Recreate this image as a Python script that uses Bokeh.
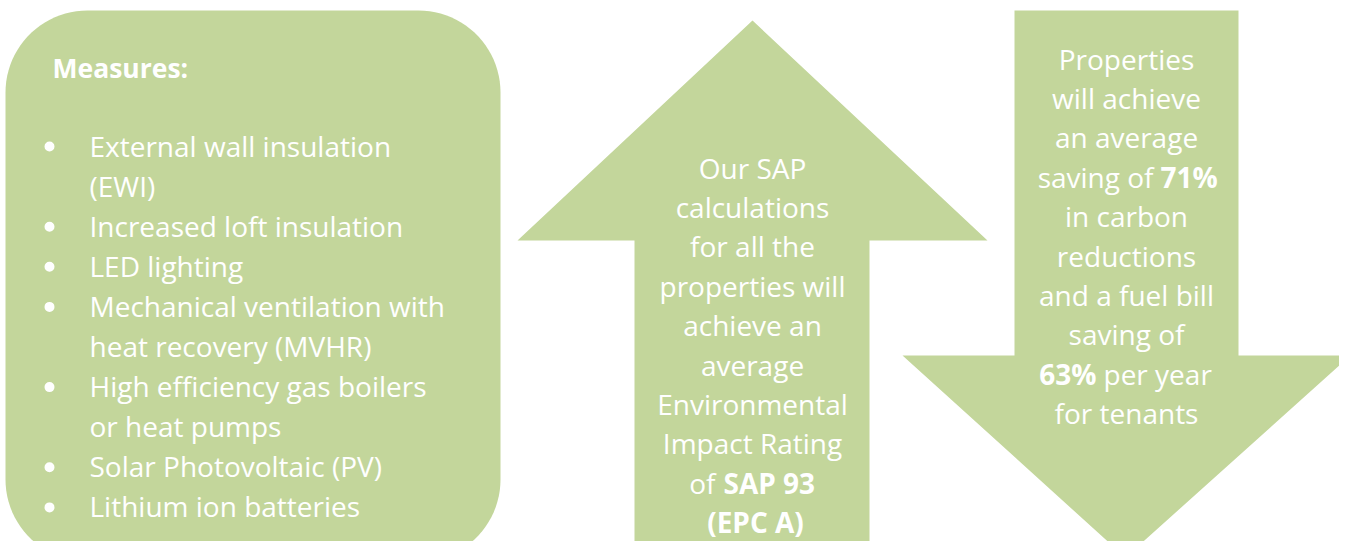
import numpy as np
from bokeh.plotting import figure
from bokeh.models import Range1d
from bokeh.core.properties import value
from bokeh.embed import file_html
from bokeh.resources import INLINE

# ---------------- content ----------------
measures_title = "Measures:"
measure_lines = [
    "External wall insulation", "(EWI)",
    "Increased loft insulation",
    "LED lighting",
    "Mechanical ventilation with", "heat recovery (MVHR)",
    "High efficiency gas boilers", "or heat pumps",
    "Solar Photovoltaic (PV)",
    "Lithium ion batteries",
]
measure_bullet = [1, 0, 1, 1, 1, 0, 1, 0, 1, 1]

up_plain = ["Our SAP", "calculations", "for all the", "properties will",
            "achieve an", "average", "Environmental", "Impact Rating"]
up_mixed = ("of", "SAP 93")
up_bold = ["(EPC A)"]

down_plain_top = ["Properties", "will achieve", "an average"]
down_mixed1 = ("saving of", "71%")
down_plain_mid = ["in carbon", "reductions", "and a fuel bill", "saving of"]
down_mixed2 = ("63%", "per year")
down_plain_end = ["for tenants"]

# ---------------- style ----------------
GREEN = "#c3d69b"
WHITE = "#ffffff"
FONT = "Open Sans"
FS = "28px"
FS_TITLE = "26.5px"
LH = 39.4
TY = -10  # baseline correction for svg text

W, H = 1339, 541
p = figure(width=W, height=H, output_backend="svg", toolbar_location=None,
           x_range=Range1d(0, W), y_range=Range1d(H, 0),
           x_axis_location=None, y_axis_location=None, min_border=0)
p.grid.visible = False
p.outline_line_color = None
p.background_fill_color = "white"
p.border_fill_color = "white"


def rounded_rect(x0, y0, x1, y1, r, n=24):
    xs, ys = [], []
    corners = [(x1 - r, y0 + r, -np.pi / 2, 0.0),
               (x1 - r, y1 - r, 0.0, np.pi / 2),
               (x0 + r, y1 - r, np.pi / 2, np.pi),
               (x0 + r, y0 + r, np.pi, 1.5 * np.pi)]
    for cx, cy, a0, a1 in corners:
        t = np.linspace(a0, a1, n)
        xs.extend(cx + r * np.cos(t))
        ys.extend(cy + r * np.sin(t))
    return xs, ys


bx, by = rounded_rect(5, 10, 500, 561, 82)
p.patch(bx, by, fill_color=GREEN, line_color=None)

# up arrow
p.patch([752, 987, 869, 869, 634, 634, 517], [20, 240, 240, 553, 553, 240, 240],
        fill_color=GREEN, line_color=None)
# down arrow
p.patch([1014, 1238, 1238, 1350, 1125, 902, 1014], [10, 10, 355, 355, 557, 355, 355],
        fill_color=GREEN, line_color=None)

txt = dict(text_color=WHITE, text_font=value(FONT), text_baseline="alphabetic")

# left box
p.text(x=[52], y=[77 + TY], text=[measures_title], text_font_size=FS_TITLE,
       text_font_style="bold", text_align="left", **txt)
ys = [155 + 40.1 * i for i in range(len(measure_lines))]
p.text(x=[89] * len(measure_lines), y=[y + TY for y in ys], text=measure_lines,
       text_font_size=FS, text_align="left", **txt)
bys = [y - 9 for y, b in zip(ys, measure_bullet) if b]
p.scatter(x=[49] * len(bys), y=bys, size=10, marker="circle",
          fill_color=WHITE, line_color=None)

# up arrow text
uy0 = 177 + TY
uys = [uy0 + LH * i for i in range(len(up_plain))]
p.text(x=[752] * len(up_plain), y=uys, text=up_plain, text_font_size=FS,
       text_align="center", **txt)
ym = uy0 + LH * len(up_plain)
p.text(x=[715], y=[ym], text=[up_mixed[0]], text_font_size=FS,
       text_align="right", **txt)
p.text(x=[723], y=[ym], text=[up_mixed[1]], text_font_size=FS,
       text_font_style="bold", text_align="left", **txt)
p.text(x=[755], y=[ym + LH], text=up_bold, text_font_size=FS,
       text_font_style="bold", text_align="center", **txt)

# down arrow text
dy0 = 68 + TY
dc = 1126
d1 = [dy0 + LH * i for i in range(len(down_plain_top))]
p.text(x=[dc] * len(d1), y=d1, text=down_plain_top, text_font_size=FS,
       text_align="center", **txt)
y4 = dy0 + LH * 3
p.text(x=[1153], y=[y4], text=[down_mixed1[0]], text_font_size=FS,
       text_align="right", **txt)
p.text(x=[1160], y=[y4], text=[down_mixed1[1]], text_font_size=FS,
       text_font_style="bold", text_align="left", **txt)
d2 = [dy0 + LH * (4 + i) for i in range(len(down_plain_mid))]
p.text(x=[dc] * len(d2), y=d2, text=down_plain_mid, text_font_size=FS,
       text_align="center", **txt)
y9 = dy0 + LH * 8
p.text(x=[1096], y=[y9], text=[down_mixed2[0]], text_font_size=FS,
       text_font_style="bold", text_align="right", **txt)
p.text(x=[1103], y=[y9], text=[down_mixed2[1]], text_font_size=FS,
       text_align="left", **txt)
p.text(x=[dc], y=[dy0 + LH * 9], text=down_plain_end, text_font_size=FS,
       text_align="center", **txt)

open("out.html", "w").write(file_html(p, INLINE))
